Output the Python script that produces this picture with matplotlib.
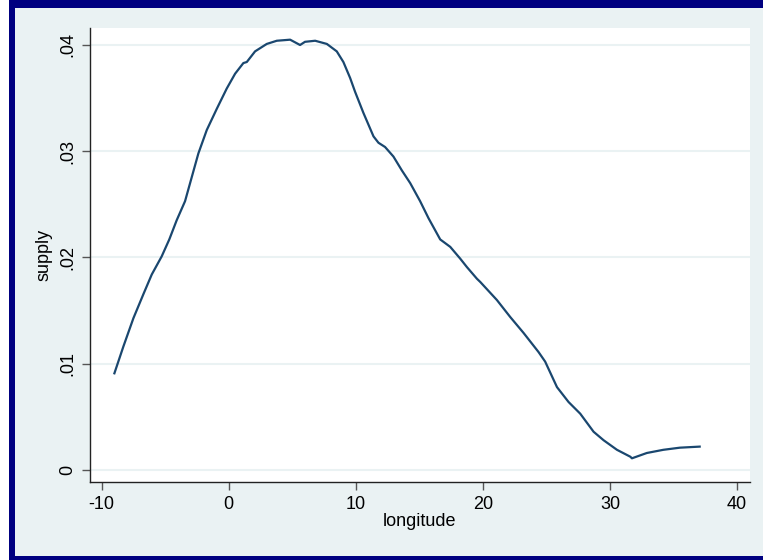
import matplotlib
matplotlib.use("Agg")
import matplotlib.pyplot as plt
from matplotlib.patches import Rectangle

# ── data ──
longitude = [-9.0, -8.3, -7.5, -6.7, -6.06, -5.28, -4.68, -4.1, -3.44, -2.39,
             -1.73, -0.94, -0.16, 0.5, 1.15, 1.42, 2.07, 2.99, 3.78, 4.83,
             5.61, 6.0, 6.8, 7.72, 8.5, 9.02, 9.55, 9.94, 10.6, 11.39,
             11.78, 12.3, 12.96, 13.62, 14.28, 15.06, 15.72, 16.64, 17.43, 18.21,
             18.74, 19.53, 19.79, 21.1, 22.15, 23.2, 24.38, 24.9, 25.83, 26.74,
             27.66, 28.71, 29.5, 30.55, 31.6, 31.73, 32.9, 34.2, 35.5, 37.06]
supply = [0.0091, 0.0116, 0.0143, 0.0166, 0.0184, 0.0201, 0.0217, 0.0235, 0.0253, 0.0298,
          0.0320, 0.0340, 0.0359, 0.0373, 0.0383, 0.0384, 0.0394, 0.0401, 0.0404, 0.0405,
          0.0400, 0.0403, 0.0404, 0.0401, 0.0394, 0.0384, 0.0369, 0.0356, 0.0336, 0.0314,
          0.0308, 0.0304, 0.0295, 0.0282, 0.0270, 0.0253, 0.0237, 0.0217, 0.0210, 0.0199,
          0.0191, 0.0180, 0.0177, 0.0160, 0.0144, 0.0129, 0.0111, 0.0102, 0.0078, 0.0064,
          0.0053, 0.0036, 0.0028, 0.0019, 0.00125, 0.0011, 0.0016, 0.0019, 0.0021, 0.0022]

x_ticks = [-10, 0, 10, 20, 30, 40]
y_ticks = [0, 0.01, 0.02, 0.03, 0.04]
y_labels = ["0", ".01", ".02", ".03", ".04"]

# Stata s2color look
NAVY_FRAME = "#000080"
REGION_BG = "#eaf2f3"
LINE_COL = "#1a476f"

plt.rcParams['font.family'] = ['Liberation Sans', 'DejaVu Sans']
plt.rcParams['axes.unicode_minus'] = False   # Stata prints a plain hyphen

W, H = 763, 560
fig = plt.figure(figsize=(W / 100, H / 100), dpi=100)
fig.patch.set_facecolor("white")

def px_rect(x0, y0, x1, y1, color):
    # pixel box (top-left origin) -> figure fraction
    fig.add_artist(Rectangle((x0 / W, 1 - y1 / H), (x1 - x0) / W, (y1 - y0) / H,
                             transform=fig.transFigure, facecolor=color,
                             edgecolor="none", zorder=0))

px_rect(9, 0, W, H, NAVY_FRAME)
px_rect(15, 8, W, 556, REGION_BG)

ax = fig.add_axes([90 / W, 1 - 482 / H, (750 - 90) / W, (482 - 28) / H])
ax.set_facecolor("white")

ax.plot(longitude, supply, color=LINE_COL, lw=1.6, zorder=3)

ax.set_xlim(-10.92, 41.02)
ax.set_ylim(-0.00113, 0.0416)
ax.set_xticks(x_ticks)
ax.set_yticks(y_ticks)
ax.set_yticklabels(y_labels, rotation=90, va="center")
ax.grid(axis="y", color=REGION_BG, lw=1.5, zorder=1)
ax.set_axisbelow(True)

for s in ("top", "right"):
    ax.spines[s].set_visible(False)
for s in ("left", "bottom"):
    ax.spines[s].set_color("#222222")
    ax.spines[s].set_linewidth(1.0)

ax.tick_params(axis="both", direction="out", length=6, width=1.0,
               color="#555555", labelsize=13, labelcolor="black", pad=4)

ax.set_xlabel("longitude", fontsize=13, labelpad=0)
ax.set_ylabel("supply", fontsize=13, labelpad=5)

fig.savefig("out.png", dpi=100, facecolor=fig.get_facecolor())
